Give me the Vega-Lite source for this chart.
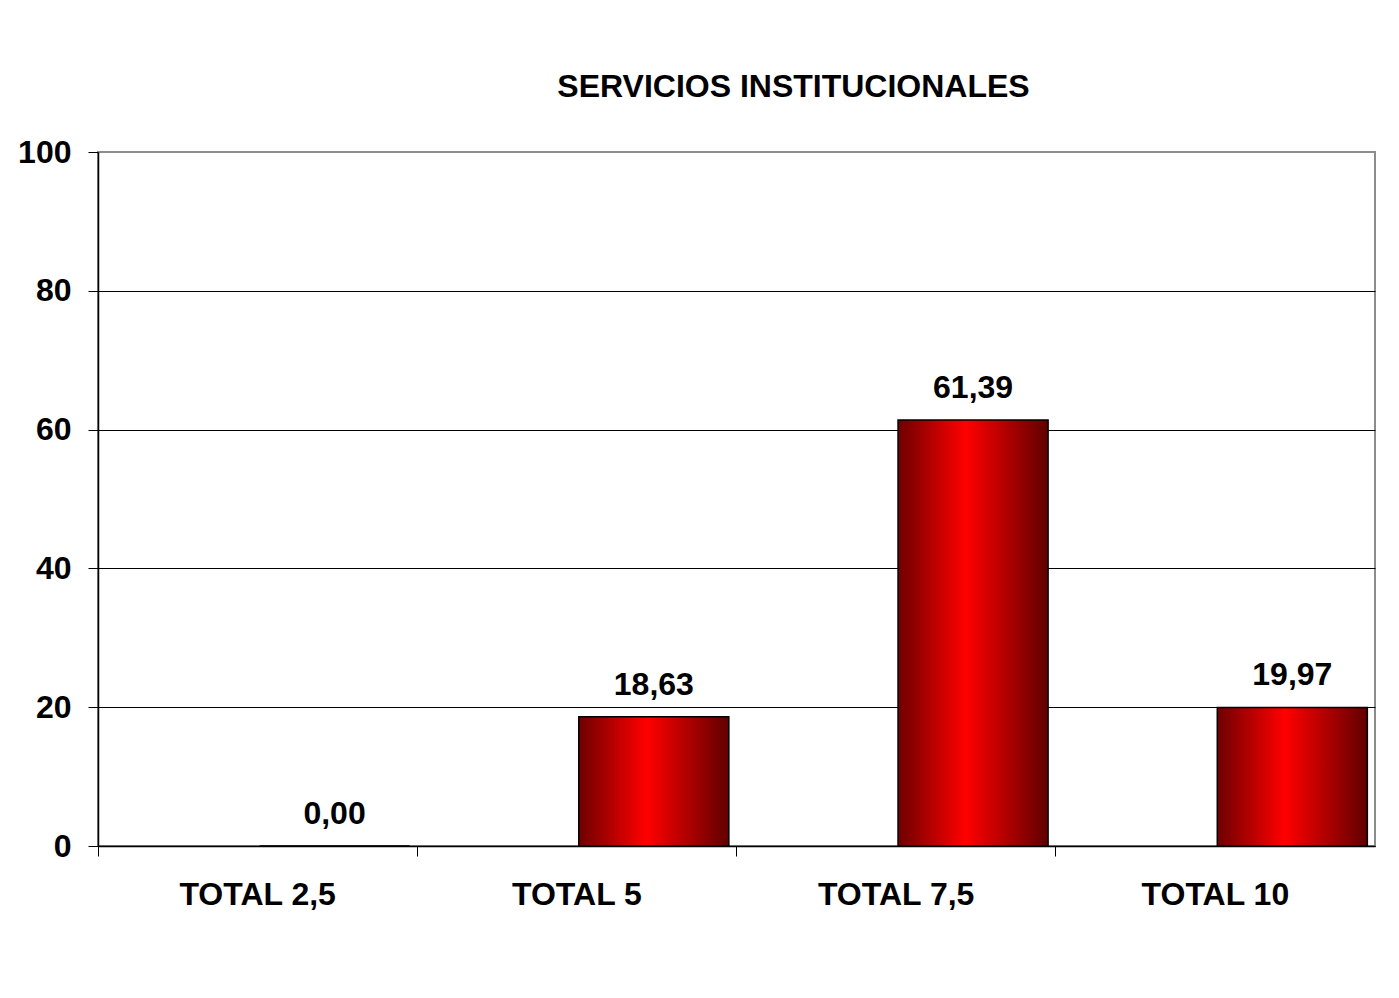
{
  "$schema": "https://vega.github.io/schema/vega-lite/v6.json",
  "width": 1277,
  "height": 694,
  "autosize": {"type": "none"},
  "padding": {"left": 98, "top": 152, "right": 24, "bottom": 152},
  "background": "white",
  "title": {
    "text": "SERVICIOS INSTITUCIONALES",
    "font": "Liberation Sans",
    "fontSize": 32,
    "fontWeight": "bold",
    "color": "black",
    "anchor": "middle",
    "baseline": "alphabetic",
    "dx": 57,
    "offset": 7
  },
  "data": {
    "values": [
      {"categoria": "TOTAL 2,5", "serie": "B", "valor": 0.0},
      {"categoria": "TOTAL 5", "serie": "B", "valor": 18.63},
      {"categoria": "TOTAL 7,5", "serie": "B", "valor": 61.39},
      {"categoria": "TOTAL 10", "serie": "B", "valor": 19.97}
    ]
  },
  "encoding": {
    "x": {
      "field": "categoria",
      "type": "nominal",
      "sort": null,
      "scale": {"paddingInner": 0, "paddingOuter": 0},
      "axis": {
        "title": null,
        "bandPosition": 0,
        "labelOffset": 0,
        "labelAngle": 0,
        "labelFont": "Liberation Sans",
        "labelFontSize": 32,
        "labelFontWeight": "bold",
        "labelColor": "black",
        "labelPadding": 23,
        "labelBaseline": "top",
        "tickSize": 10,
        "tickColor": "black",
        "domainColor": "black",
        "domainWidth": 1.5,
        "grid": false
      }
    },
    "xOffset": {
      "field": "serie",
      "type": "nominal",
      "scale": {"domain": ["A", "B"], "paddingInner": 0.06, "paddingOuter": 0.03, "align": 0.2}
    },
    "y": {
      "field": "valor",
      "type": "quantitative",
      "scale": {"domain": [0, 100], "nice": false, "zero": true},
      "axis": {
        "title": null,
        "values": [0, 20, 40, 60, 80, 100],
        "labelFont": "Liberation Sans",
        "labelFontSize": 32,
        "labelFontWeight": "bold",
        "labelColor": "black",
        "labelPadding": 17,
        "tickSize": 10,
        "tickColor": "black",
        "domainColor": "black",
        "domainWidth": 1.5,
        "grid": true,
        "gridColor": {"condition": {"test": "datum.value === 100", "value": "#8c8c8c"}, "value": "black"},
        "gridWidth": 1
      }
    }
  },
  "layer": [
    {
      "mark": {
        "type": "bar",
        "stroke": "black",
        "strokeWidth": 1.5,
        "color": {
          "gradient": "linear",
          "x1": 0, "y1": 0, "x2": 1, "y2": 0,
          "stops": [
            {"offset": 0, "color": "#6e0000"},
            {"offset": 0.45, "color": "#ff0000"},
            {"offset": 1, "color": "#600000"}
          ]
        }
      }
    },
    {
      "mark": {
        "type": "text",
        "font": "Liberation Sans",
        "fontSize": 32,
        "fontWeight": "bold",
        "color": "black",
        "baseline": "alphabetic",
        "align": "center",
        "dy": -22
      },
      "encoding": {
        "text": {"field": "valor", "type": "quantitative", "format": ".2f"}
      }
    }
  ],
  "config": {
    "locale": {
      "number": {"decimal": ",", "thousands": ".", "grouping": [3], "currency": ["", " €"]}
    },
    "view": {"stroke": "#8c8c8c", "strokeWidth": 2}
  }
}
